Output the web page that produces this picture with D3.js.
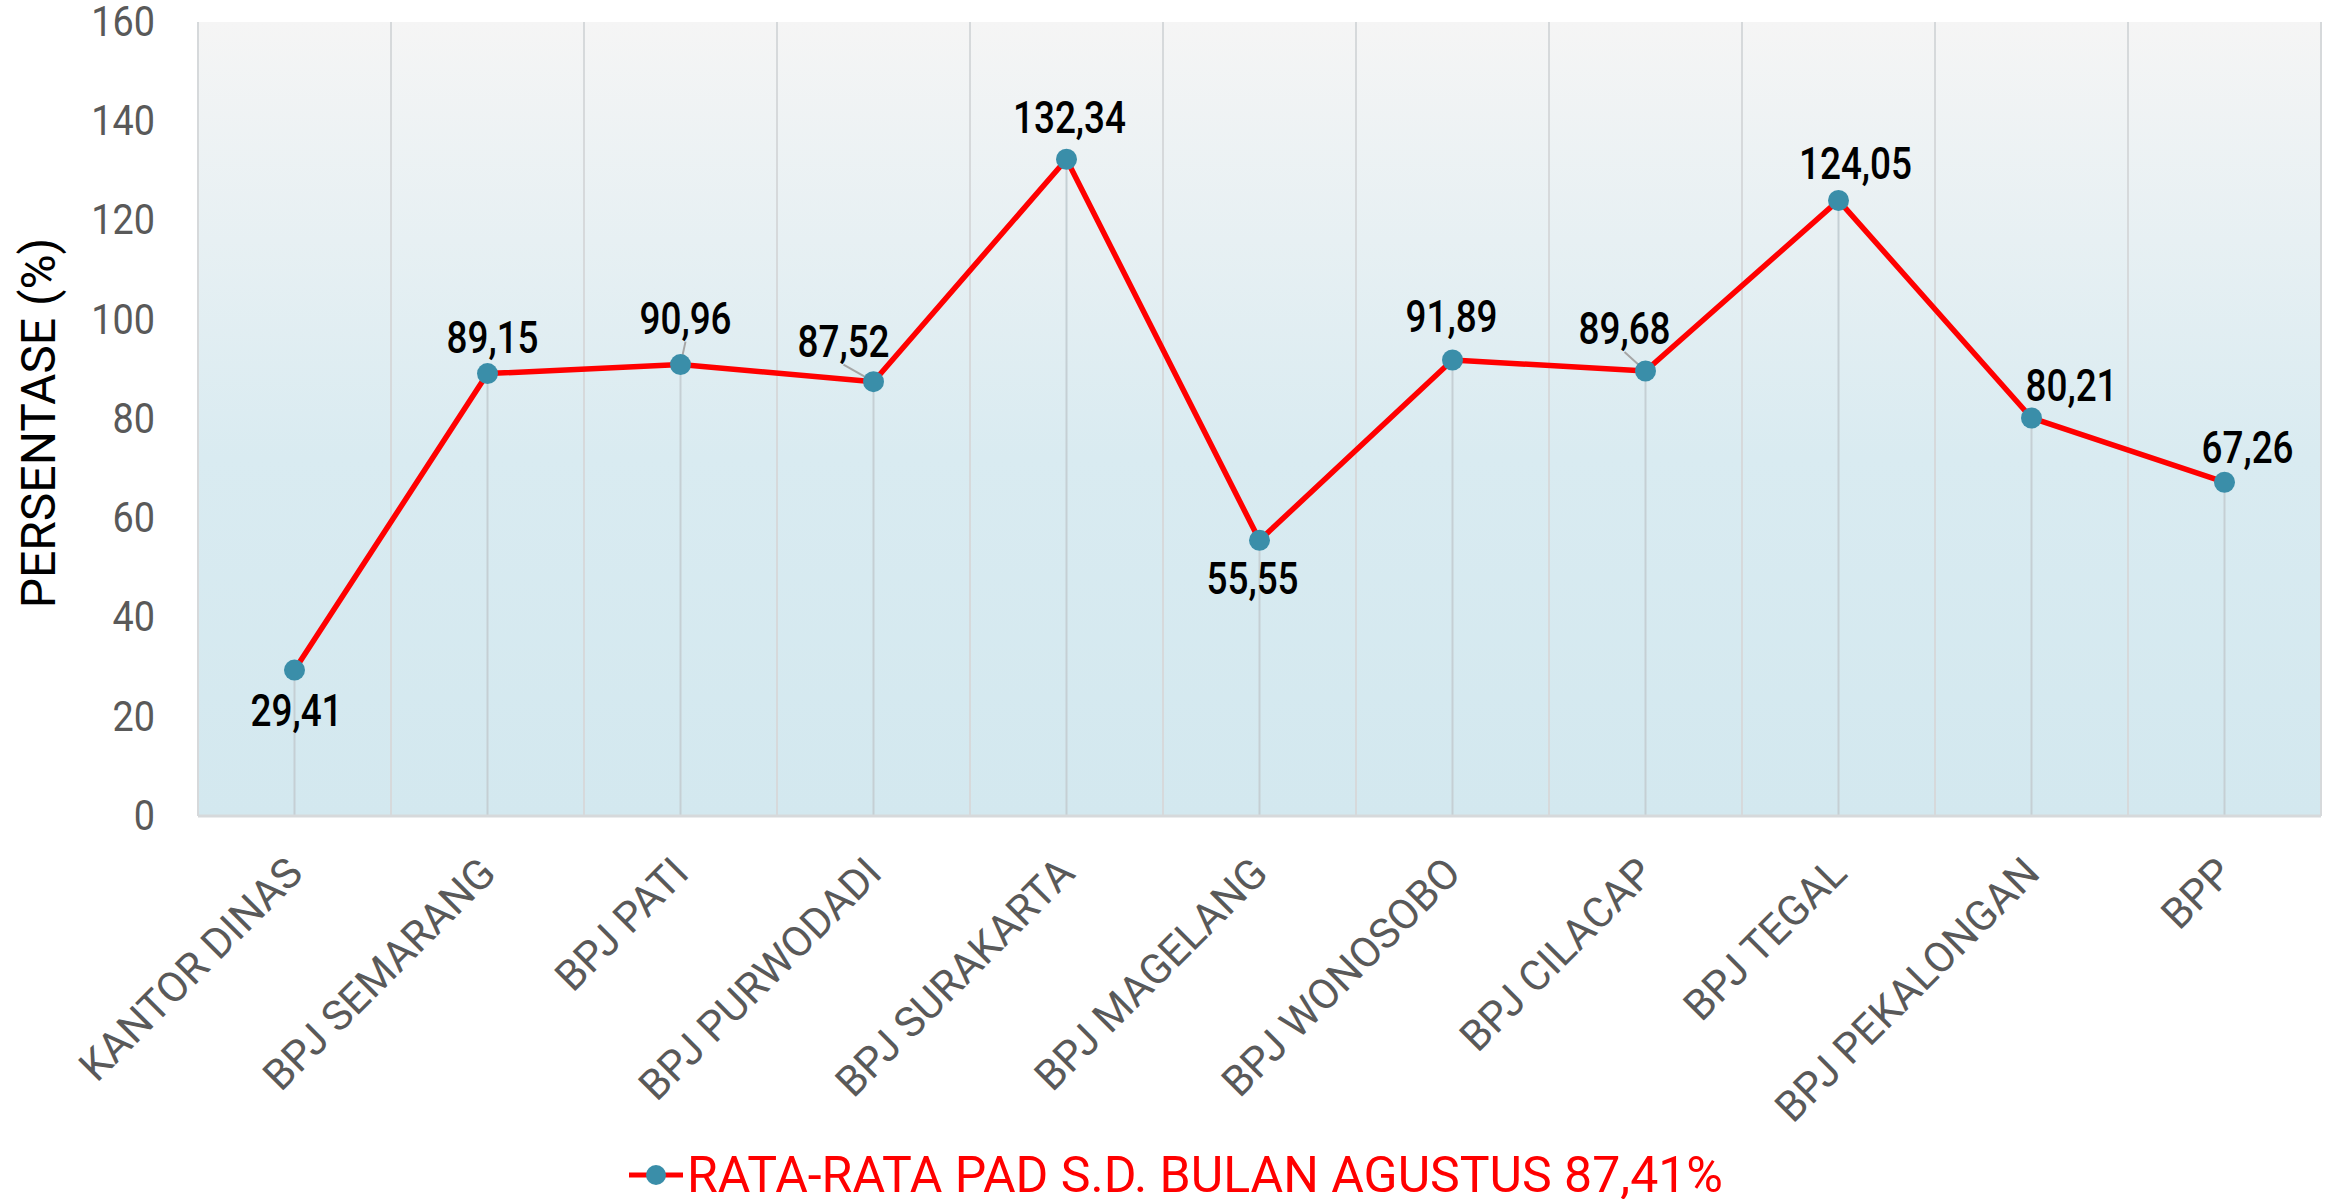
<!DOCTYPE html>
<html>
<head>
<meta charset="utf-8">
<script src="https://cdn.jsdelivr.net/npm/d3@7"></script>
<style>
  html, body { margin: 0; padding: 0; background: #ffffff; }
  svg { display: block; }
</style>
</head>
<body>
<svg id="padChart" width="2328" height="1199"></svg>
<script>
// data
const categories = [
    "KANTOR DINAS", "BPJ SEMARANG", "BPJ PATI", "BPJ PURWODADI", "BPJ SURAKARTA",
    "BPJ MAGELANG", "BPJ WONOSOBO", "BPJ CILACAP", "BPJ TEGAL", "BPJ PEKALONGAN", "BPP"
];
const values = [29.41, 89.15, 90.96, 87.52, 132.34, 55.55, 91.89, 89.68, 124.05, 80.21, 67.26];
const valueLabels = ["29,41", "89,15", "90,96", "87,52", "132,34", "55,55", "91,89", "89,68", "124,05", "80,21", "67,26"];
const yTicks = [0, 20, 40, 60, 80, 100, 120, 140, 160];
const yTitle = "PERSENTASE (%)";
const seriesName = "RATA-RATA PAD S.D. BULAN AGUSTUS 87,41%";

// label placement (center of label relative to point, px) + leader line flag
const labelOffsets = [
    [2, 40], [5, -37], [5, -47], [-30, -41], [3, -42], [-7, 37],
    [-1, -44], [-21, -43], [17, -38], [40, -33], [23, -35]
];
const leaderLines = [false, false, true, true, false, false, false, true, false, false, false];

const margin = { top: 22, right: 7, bottom: 383, left: 198 };
const svg = d3.select("#padChart");
const svg_width = +svg.attr("width");
const svg_height = +svg.attr("height");
const width = svg_width - margin.left - margin.right;
const height = svg_height - margin.top - margin.bottom;

const font = "Roboto, 'Noto Sans', sans-serif";
// numbers in the original are a narrow face, so squeeze them a bit
const labelSqueeze = 0.82;
const tickSqueeze = 0.9;

const x_scale = d3.scaleBand().domain(categories).range([0, width]).padding(0);
const y_scale = d3.scaleLinear().domain([0, 160]).range([height, 0]);

// background gradient
const defs = svg.append("defs");
const grad = defs.append("linearGradient")
    .attr("id", "plotBg")
    .attr("x1", 0).attr("y1", 0).attr("x2", 0).attr("y2", 1);
grad.append("stop").attr("offset", "0%").attr("stop-color", "#f5f5f5");
grad.append("stop").attr("offset", "55%").attr("stop-color", "#d9ebf1");
grad.append("stop").attr("offset", "100%").attr("stop-color", "#d3e8ef");

const g = svg.append("g").attr("transform", `translate(${margin.left}, ${margin.top})`);

g.append("rect")
    .attr("width", width)
    .attr("height", height)
    .attr("fill", "url(#plotBg)");

// vertical gridlines on band edges
const edges = categories.map((c) => x_scale(c)).concat([width]);
g.selectAll(".vgrid")
    .data(edges)
    .enter()
    .append("line")
    .attr("class", "vgrid")
    .attr("x1", (d) => d).attr("x2", (d) => d)
    .attr("y1", 0).attr("y2", height)
    .attr("stroke", "#d6d9db")
    .attr("stroke-width", 2);

const cx = (i) => x_scale(categories[i]) + x_scale.bandwidth() / 2;

// drop lines
g.selectAll(".drop")
    .data(values)
    .enter()
    .append("line")
    .attr("class", "drop")
    .attr("x1", (d, i) => cx(i)).attr("x2", (d, i) => cx(i))
    .attr("y1", (d) => y_scale(d)).attr("y2", height)
    .attr("stroke", "#c5cfd4")
    .attr("stroke-width", 2);

// bottom axis line
g.append("line")
    .attr("x1", 0).attr("x2", width)
    .attr("y1", height).attr("y2", height)
    .attr("stroke", "#d6d9db")
    .attr("stroke-width", 3);

// y axis
const yAxis = g.append("g").call(
    d3.axisLeft(y_scale).tickValues(yTicks).tickSize(0).tickPadding(0)
);
yAxis.select(".domain").remove();
yAxis.selectAll("text")
    .attr("x", 0)
    .attr("transform", `translate(-43, 0) scale(${tickSqueeze}, 1)`)
    .attr("font-family", font)
    .attr("font-size", 42)
    .attr("fill", "#595959");

// x axis
const xAxis = g.append("g")
    .attr("transform", `translate(0, ${height})`)
    .call(d3.axisBottom(x_scale).tickSize(0).tickPadding(0));
xAxis.select(".domain").remove();
xAxis.selectAll("text")
    .attr("font-family", font)
    .attr("font-size", 42)
    .attr("fill", "#595959")
    .attr("text-anchor", "end")
    .attr("y", 0)
    .attr("dy", "0.35em")
    .attr("transform", "translate(0, 49) rotate(-45)");

// y title
svg.append("text")
    .attr("transform", "translate(55, 423) rotate(-90)")
    .attr("text-anchor", "middle")
    .attr("font-family", font)
    .attr("font-size", 48)
    .attr("fill", "#000000")
    .text(yTitle);

// line
const line = d3.line()
    .x((d, i) => cx(i))
    .y((d) => y_scale(d))
    .curve(d3.curveLinear);

g.append("path")
    .datum(values)
    .attr("fill", "none")
    .attr("stroke", "#ff0000")
    .attr("stroke-width", 5.5)
    .attr("stroke-linejoin", "round")
    .attr("d", line);

// leader lines
g.selectAll(".leader")
    .data(values.map((v, i) => ({ v, i })).filter((d) => leaderLines[d.i]))
    .enter()
    .append("line")
    .attr("class", "leader")
    .attr("x1", (d) => cx(d.i) + labelOffsets[d.i][0])
    .attr("y1", (d) => y_scale(d.v) + labelOffsets[d.i][1] + 24)
    .attr("x2", (d) => cx(d.i))
    .attr("y2", (d) => y_scale(d.v))
    .attr("stroke", "#a6a6a6")
    .attr("stroke-width", 2);

// points
g.selectAll("circle.pt")
    .data(values)
    .enter()
    .append("circle")
    .attr("class", "pt")
    .attr("cx", (d, i) => cx(i))
    .attr("cy", (d) => y_scale(d))
    .attr("r", 10.5)
    .attr("fill", "#3a8ea9");

// data labels
g.selectAll(".dlabel")
    .data(values)
    .enter()
    .append("text")
    .attr("class", "dlabel")
    .attr("transform", (d, i) =>
        `translate(${cx(i) + labelOffsets[i][0]}, ${y_scale(d) + labelOffsets[i][1]}) scale(${labelSqueeze}, 1)`)
    .attr("dy", "0.36em")
    .attr("text-anchor", "middle")
    .attr("font-family", font)
    .attr("font-weight", 500)
    .attr("font-size", 45)
    .attr("fill", "#000000")
    .text((d, i) => valueLabels[i]);

// legend
const legend = svg.append("g").attr("transform", "translate(629, 1175)");
legend.append("line")
    .attr("x1", 0).attr("x2", 54)
    .attr("y1", 0).attr("y2", 0)
    .attr("stroke", "#ff0000")
    .attr("stroke-width", 5);
legend.append("circle")
    .attr("cx", 27).attr("cy", 0).attr("r", 10)
    .attr("fill", "#3a8ea9");
legend.append("text")
    .attr("x", 58)
    .attr("y", 17)
    .attr("font-family", font)
    .attr("font-size", 50)
    .attr("fill", "#ff0000")
    .text(seriesName);
</script>
</body>
</html>
